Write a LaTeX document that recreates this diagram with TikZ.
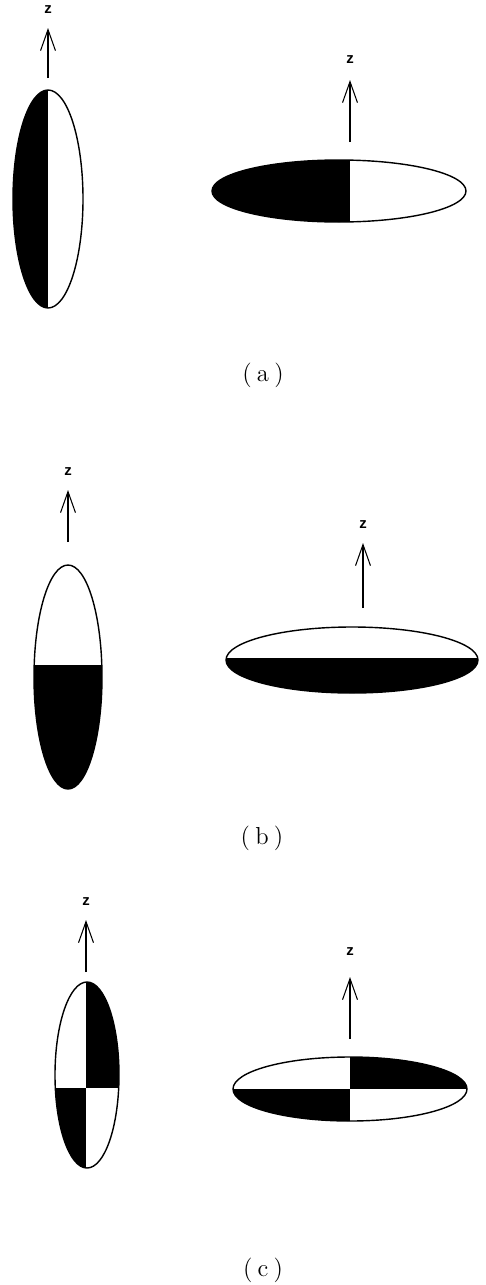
\documentclass[tikz,border=0pt]{standalone}
\usepackage{fontspec}
\setsansfont{Liberation Sans}
\usetikzlibrary{arrows.meta}

\tikzset{
  shell/.style={draw=black,line width=0.8pt},
  zaxis/.style={-{Straight Barb[length=12pt,width=8.5pt]},line width=0.6pt},
  zlabel/.style={font=\sffamily\bfseries\fontsize{8.5}{10}\selectfont,inner sep=1pt},
  caption/.style={font=\fontsize{14}{16}\selectfont,inner sep=1pt}
}

\begin{document}
\begin{tikzpicture}[x=0.02cm,y=-0.02cm]
  \useasboundingbox (0,0) rectangle (485,1285);

  % (a) prolate and oblate, split left/right
  \begin{scope}
    \clip (48,199) ellipse [x radius=35,y radius=109];
    \fill (0,80) rectangle (48,320);
  \end{scope}
  \draw[shell] (48,199) ellipse [x radius=35,y radius=109];
  \coordinate (aLbase) at (48,78);
  \coordinate (aLtip) at (48,28);
  \node[zlabel] (aLz) at (48,10) {z};
  \draw[zaxis] (aLbase) -- (aLtip);

  \begin{scope}
    \clip (339,191) ellipse [x radius=127,y radius=31];
    \fill (200,150) rectangle (350,230);
  \end{scope}
  \draw[shell] (339,191) ellipse [x radius=127,y radius=31];
  \coordinate (aRbase) at (350,142);
  \coordinate (aRtip) at (350,80);
  \node[zlabel] (aRz) at (350,60) {z};
  \draw[zaxis] (aRbase) -- (aRtip);

  \node[caption] (capa) at (263,375) {(\hspace{3pt}a\hspace{3pt})};

  % (b) split top/bottom
  \begin{scope}
    \clip (68,677) ellipse [x radius=34,y radius=112];
    \fill (20,665) rectangle (120,800);
  \end{scope}
  \draw[shell] (68,677) ellipse [x radius=34,y radius=112];
  \coordinate (bLbase) at (68,542);
  \coordinate (bLtip) at (68,490);
  \node[zlabel] (bLz) at (68,472) {z};
  \draw[zaxis] (bLbase) -- (bLtip);

  \begin{scope}
    \clip (352,660) ellipse [x radius=126,y radius=33];
    \fill (220,658) rectangle (485,700);
  \end{scope}
  \draw[shell] (352,660) ellipse [x radius=126,y radius=33];
  \coordinate (bRbase) at (363,608);
  \coordinate (bRtip) at (363,543);
  \node[zlabel] (bRz) at (363,525) {z};
  \draw[zaxis] (bRbase) -- (bRtip);

  \node[caption] (capb) at (262,838) {(\hspace{3pt}b\hspace{3pt})};

  % (c) quadrants
  \begin{scope}
    \clip (87,1075) ellipse [x radius=32,y radius=93];
    \fill (86,970) rectangle (130,1088);
    \fill (40,1088) rectangle (86,1180);
  \end{scope}
  \draw[shell] (87,1075) ellipse [x radius=32,y radius=93];
  \coordinate (cLbase) at (86,972);
  \coordinate (cLtip) at (86,920);
  \node[zlabel] (cLz) at (86,902) {z};
  \draw[zaxis] (cLbase) -- (cLtip);

  \begin{scope}
    \clip (350,1089) ellipse [x radius=117,y radius=32];
    \fill (350,1050) rectangle (480,1089);
    \fill (220,1089) rectangle (350,1130);
  \end{scope}
  \draw[shell] (350,1089) ellipse [x radius=117,y radius=32];
  \coordinate (cRbase) at (350,1039);
  \coordinate (cRtip) at (350,977);
  \node[zlabel] (cRz) at (350,952) {z};
  \draw[zaxis] (cRbase) -- (cRtip);

  \node[caption] (capc) at (263,1270) {(\hspace{3pt}c\hspace{3pt})};
\end{tikzpicture}
\end{document}
